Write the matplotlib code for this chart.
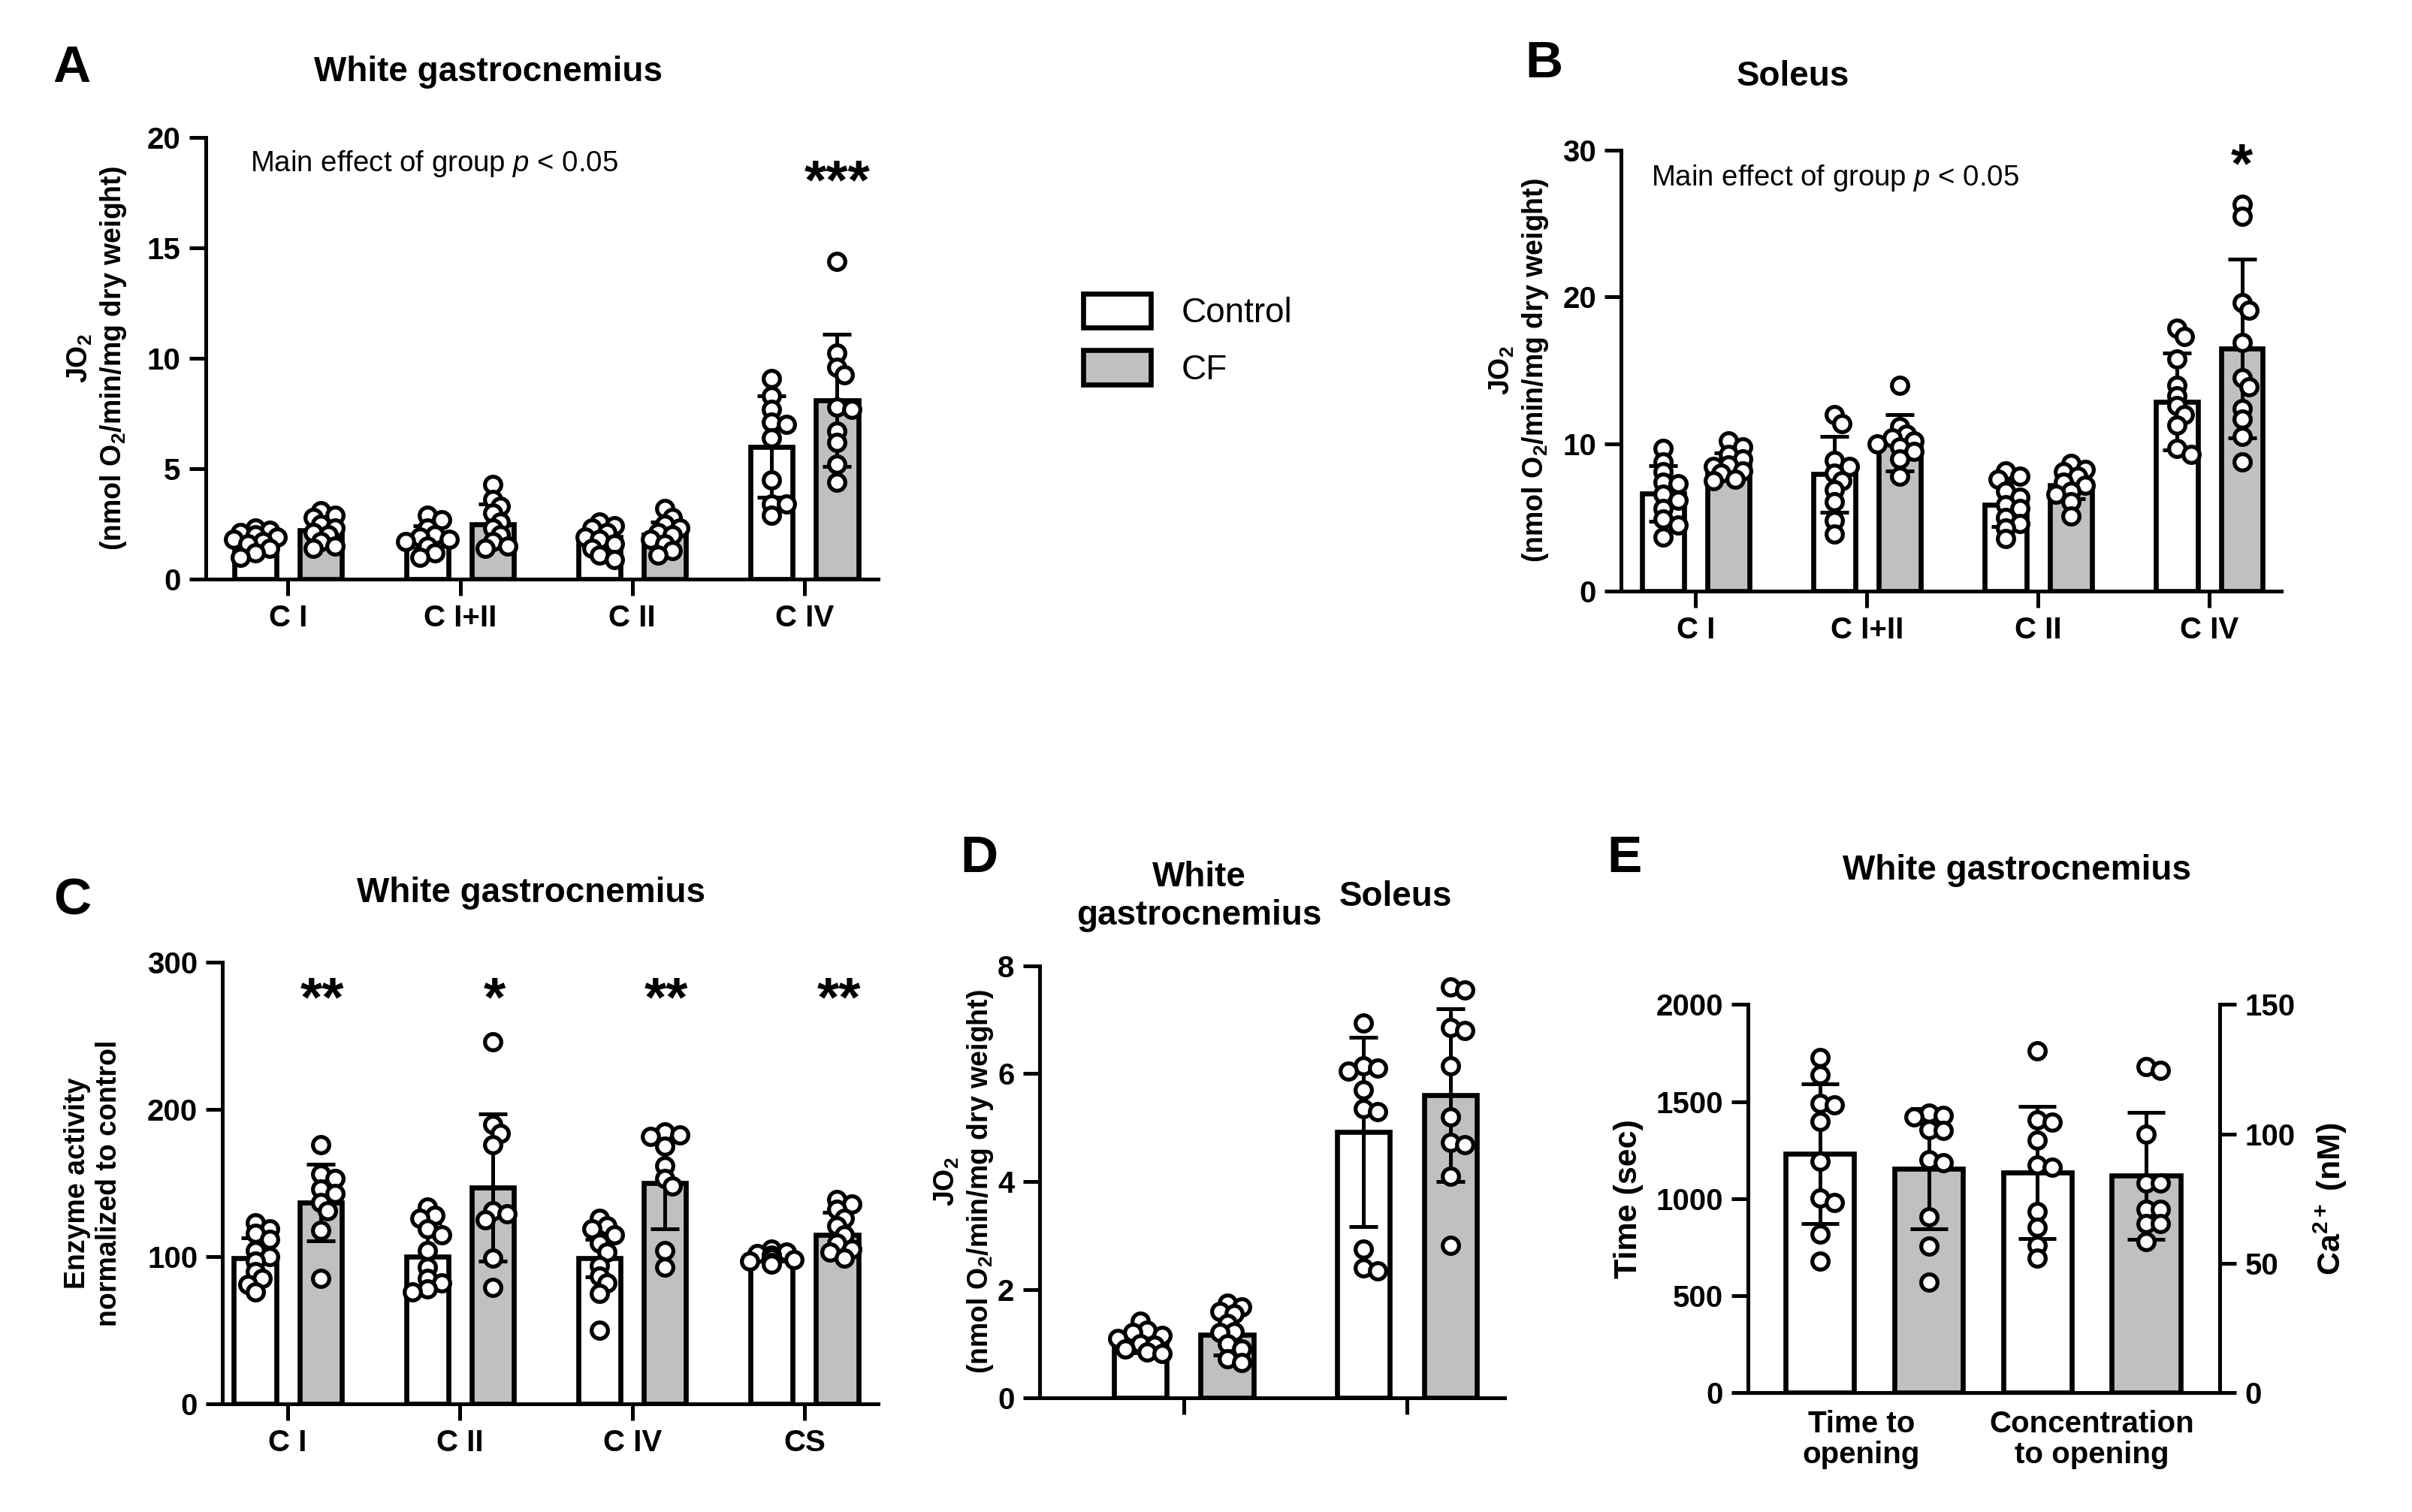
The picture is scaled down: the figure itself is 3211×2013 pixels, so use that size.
import numpy as np
import matplotlib
matplotlib.use("Agg")
import matplotlib.pyplot as plt
from matplotlib.patches import Patch

plt.rcParams['font.family'] = ['Liberation Sans', 'DejaVu Sans']
plt.rcParams['font.weight'] = 'bold'
plt.rcParams['axes.titleweight'] = 'bold'
plt.rcParams['axes.labelweight'] = 'bold'
plt.rcParams['mathtext.fontset'] = 'custom'
plt.rcParams['mathtext.rm'] = 'Liberation Sans:weight=bold'
plt.rcParams['mathtext.it'] = 'Liberation Sans:style=italic:weight=400'
plt.rcParams['mathtext.bf'] = 'Liberation Sans:weight=bold'

GRAY = '#c0c0c0'

# ---------------- data ----------------
# Panel A - white gastrocnemius JO2
a_groups = ["C I", "C I+II", "C II", "C IV"]
a_ctrl_mean = [1.8, 1.9, 1.9, 6.0]
a_ctrl_sd = [0.35, 0.5, 0.45, 2.3]
a_cf_mean = [2.2, 2.5, 2.0, 8.1]
a_cf_sd = [0.6, 0.9, 0.6, 3.0]
a_ctrl_pts = [
    [2.3, 2.2, 2.1, 2.0, 1.9, 1.8, 1.7, 1.6, 1.4, 1.2, 1.0],
    [2.9, 2.7, 2.3, 2.0, 1.9, 1.8, 1.7, 1.5, 1.2, 1.0],
    [2.6, 2.4, 2.3, 2.1, 1.9, 1.8, 1.6, 1.4, 1.1, 0.9],
    [9.1, 8.3, 7.7, 7.1, 7.0, 6.4, 4.5, 3.4, 3.4, 2.9],
]
a_cf_pts = [
    [3.1, 2.9, 2.8, 2.5, 2.3, 2.1, 2.0, 1.7, 1.5, 1.4],
    [4.3, 3.6, 3.3, 3.0, 2.6, 2.3, 2.0, 1.7, 1.5, 1.4],
    [3.2, 2.8, 2.5, 2.3, 2.1, 2.0, 1.8, 1.6, 1.3, 1.1],
    [14.4, 10.25, 9.6, 9.25, 7.8, 7.7, 6.7, 6.2, 5.2, 4.4],
]

# Panel B - soleus JO2
b_groups = ["C I", "C I+II", "C II", "C IV"]
b_ctrl_mean = [6.65, 7.95, 5.9, 12.9]
b_ctrl_sd = [1.9, 2.6, 1.5, 3.3]
b_cf_mean = [8.6, 10.1, 7.2, 16.5]
b_cf_sd = [0.8, 1.9, 0.9, 6.1]
b_ctrl_pts = [
    [9.7, 8.8, 8.1, 7.4, 7.3, 6.6, 6.2, 5.6, 4.9, 4.5, 3.7],
    [12.0, 11.4, 8.9, 8.5, 8.0, 7.5, 6.9, 6.1, 4.8, 3.9],
    [8.2, 7.8, 7.6, 6.8, 6.4, 5.9, 5.6, 5.0, 4.6, 4.3, 3.6],
    [17.9, 17.3, 15.8, 14.0, 13.3, 12.6, 12.0, 11.3, 9.7, 9.3],
]
b_cf_pts = [
    [10.2, 9.8, 9.3, 9.0, 8.6, 8.5, 8.2, 8.0, 7.6, 7.5],
    [14.0, 11.2, 10.7, 10.4, 10.2, 10.0, 9.8, 9.5, 9.0, 7.8],
    [8.7, 8.3, 8.1, 7.8, 7.4, 7.2, 6.8, 6.6, 6.1, 5.1],
    [26.3, 25.5, 19.6, 19.1, 16.9, 14.5, 13.9, 12.4, 11.7, 10.5, 8.8],
]

# Panel C - enzyme activity, % of control
c_groups = ["C I", "C II", "C IV", "CS"]
c_ctrl_mean = [99, 100, 99, 100]
c_ctrl_sd = [14, 23, 13, 3]
c_cf_mean = [137, 147, 150, 115]
c_cf_sd = [26, 50, 31, 15]
c_ctrl_pts = [
    [123, 119, 116, 112, 104, 100, 97, 90, 85, 81, 76],
    [134, 128, 126, 119, 115, 104, 93, 85, 82, 78, 76],
    [126, 121, 119, 115, 109, 103, 94, 87, 82, 75, 50],
    [105, 103, 102, 101, 100, 100, 99, 98, 97, 96, 95],
]
c_cf_pts = [
    [176, 156, 153, 146, 143, 137, 131, 118, 85],
    [246, 190, 184, 176, 131, 129, 125, 99, 79],
    [185, 183, 182, 175, 162, 153, 148, 104, 93],
    [139, 136, 132, 126, 121, 115, 109, 105, 103, 99],
]
c_stars = ["**", "*", "**", "**"]

# Panel D - JO2 both muscles
d_groups = ["White\ngastrocnemius", "Soleus"]
d_ctrl_mean = [1.0, 4.92]
d_ctrl_sd = [0.17, 1.75]
d_cf_mean = [1.17, 5.6]
d_cf_sd = [0.38, 1.6]
d_ctrl_pts = [
    [1.41, 1.25, 1.2, 1.15, 1.1, 1.0, 0.97, 0.9, 0.85, 0.81],
    [6.94, 6.15, 6.1, 6.05, 5.7, 5.35, 5.3, 2.75, 2.4, 2.35],
]
d_cf_pts = [
    [1.75, 1.68, 1.6, 1.55, 1.37, 1.22, 1.2, 1.0, 0.9, 0.72, 0.65],
    [7.6, 7.55, 6.85, 6.8, 6.15, 5.2, 4.72, 4.68, 4.1, 2.82],
]

# Panel E - mPTP opening
e_labels = ["Time to\nopening", "Concentration\nto opening"]
e_time_mean = [1232, 1154]          # sec
e_time_sd = [360, 310]
e_time_pts = [
    [1726, 1637, 1492, 1481, 1396, 1191, 1002, 980, 817, 679],
    [1440, 1430, 1420, 1355, 1350, 1200, 1185, 905, 755, 570],
]
e_conc_mean = [85.2, 83.9]          # nM
e_conc_sd = [25.5, 24.5]
e_conc_pts = [
    [132, 105.5, 104.5, 97.5, 88, 87, 70, 64, 57, 52],
    [126, 124.5, 100, 81, 81, 71, 71, 65.5, 65.5, 58.5],
]

# ---------------- helpers ----------------
BAR_LW = 2.4
AX_LW = 1.8
MS = 7.8
TICK_FS = 14.5
TITLE_FS = 16.5
YLAB_FS = 13.5


def style(ax, right=False):
    ax.spines['top'].set_visible(False)
    if not right:
        ax.spines['right'].set_visible(False)
    for s in ax.spines.values():
        s.set_linewidth(AX_LW)
    ax.tick_params(width=AX_LW, length=8, labelsize=TICK_FS, pad=4)


def swarm_x(ax, x0, vals):
    # spread points sideways when they overlap too much (GraphPad-like scatter)
    tr = ax.transData
    d = MS * ax.figure.dpi / 72
    px_per_x = tr.transform((1, 0))[0] - tr.transform((0, 0))[0]
    placed = []
    xs = []
    for v in vals:
        ypx = tr.transform((x0, v))[1]
        best = None
        for k in [0, 0.45, -0.45, 0.9, -0.9, 1.35, -1.35]:
            dx = k * d
            if all((dx - px) ** 2 + (ypx - py) ** 2 >= (0.6 * d) ** 2 for px, py in placed):
                best = dx
                break
        if best is None:
            best = 0.0
        placed.append((best, ypx))
        xs.append(x0 + best / px_per_x)
    return xs


def draw(ax, x, mean, sd, pts, color, width, capsize=7):
    ax.bar(x, mean, width, color=color, edgecolor='black', linewidth=BAR_LW, zorder=2)
    ax.errorbar(x, mean, yerr=sd, fmt='none', ecolor='black', elinewidth=1.8,
                capsize=capsize, capthick=1.8, zorder=3)
    xs = swarm_x(ax, x, pts)
    ax.plot(xs, pts, 'o', ms=MS, mfc='white', mec='black', mew=1.9, zorder=4,
            clip_on=False)


def grouped(ax, groups, cm, cs, fm, fs, cp, fp, off, width, cap=7):
    for i in range(len(groups)):
        draw(ax, i - off, cm[i], cs[i], cp[i], 'white', width, cap)
        draw(ax, i + off, fm[i], fs[i], fp[i], GRAY, width, cap)
    ax.set_xticks(range(len(groups)))


JO2_LABEL = "JO$_\\mathrm{2}$\n(nmol O$_\\mathrm{2}$/min/mg dry weight)"
MAIN_EFFECT = "Main effect of group $p$ < 0.05"

fig = plt.figure(figsize=(16.06, 10.065), dpi=200)

# ---------------- A ----------------
axA = fig.add_axes([0.0853, 0.617, 0.2788, 0.292])
axA.set_xlim(-0.477, 3.43)
axA.set_ylim(0, 20)
axA.set_yticks([0, 5, 10, 15, 20])
style(axA)
grouped(axA, a_groups, a_ctrl_mean, a_ctrl_sd, a_cf_mean, a_cf_sd,
        a_ctrl_pts, a_cf_pts, 0.19, 0.245)
axA.set_xticklabels(a_groups)
axA.set_ylabel(JO2_LABEL, fontsize=YLAB_FS, labelpad=9)
axA.set_title("White gastrocnemius", fontsize=TITLE_FS, pad=27, x=0.42)
axA.text(-0.22, 18.8, MAIN_EFFECT, fontsize=13.8, fontweight='normal', va='center')
axA.text(3.19, 17.9, "***", fontsize=27, ha='center', va='center')

# ---------------- B ----------------
axB = fig.add_axes([0.672, 0.609, 0.2735, 0.2918])
axB.set_xlim(-0.434, 3.42)
axB.set_ylim(0, 30)
axB.set_yticks([0, 10, 20, 30])
style(axB)
grouped(axB, b_groups, b_ctrl_mean, b_ctrl_sd, b_cf_mean, b_cf_sd,
        b_ctrl_pts, b_cf_pts, 0.19, 0.245)
axB.set_xticklabels(b_groups)
axB.set_ylabel(JO2_LABEL, fontsize=YLAB_FS, labelpad=6)
axB.set_title("Soleus", fontsize=TITLE_FS, pad=31, x=0.26)
axB.text(-0.26, 28.1, MAIN_EFFECT, fontsize=13.8, fontweight='normal', va='center')
axB.text(3.19, 28.8, "*", fontsize=27, ha='center', va='center')

# ---------------- legend ----------------
fig.legend(handles=[Patch(facecolor='white', edgecolor='black', linewidth=BAR_LW),
                    Patch(facecolor=GRAY, edgecolor='black', linewidth=BAR_LW)],
           labels=["Control", "CF"], loc='upper left', bbox_to_anchor=(0.449, 0.806),
           frameon=False, prop={'size': 16.5, 'weight': 'normal'},
           handlelength=1.95, handleheight=1.15, labelspacing=0.6,
           handletextpad=0.9, borderpad=0, borderaxespad=0)

# ---------------- C ----------------
axC = fig.add_axes([0.0923, 0.0716, 0.2718, 0.2918])
axC.set_xlim(-0.378, 3.43)
axC.set_ylim(0, 300)
axC.set_yticks([0, 100, 200, 300])
style(axC)
grouped(axC, c_groups, c_ctrl_mean, c_ctrl_sd, c_cf_mean, c_cf_sd,
        c_ctrl_pts, c_cf_pts, 0.19, 0.245)
axC.set_xticklabels(c_groups)
axC.set_ylabel("Enzyme activity\nnormalized to control", fontsize=YLAB_FS, labelpad=12)
axC.set_title("White gastrocnemius", fontsize=TITLE_FS, pad=29, x=0.47)
for i, s in enumerate(c_stars):
    axC.text(i + 0.2, 274, s, fontsize=27, ha='center', va='center')

# ---------------- D ----------------
axD = fig.add_axes([0.4308, 0.0757, 0.1929, 0.2856])
axD.set_xlim(-0.646, 1.44)
axD.set_ylim(0, 8)
axD.set_yticks([0, 2, 4, 6, 8])
style(axD)
grouped(axD, d_groups, d_ctrl_mean, d_ctrl_sd, d_cf_mean, d_cf_sd,
        d_ctrl_pts, d_cf_pts, 0.195, 0.236)
axD.set_xticklabels(["", ""])
axD.set_ylabel(JO2_LABEL, fontsize=YLAB_FS, labelpad=1)
for i, g in enumerate(d_groups):
    axD.text(i + 0.07 - 0.12 * i, 1.16, g, transform=axD.get_xaxis_transform(),
             fontsize=TITLE_FS, ha='center', va='center', linespacing=1.2)

# ---------------- E ----------------
axE = fig.add_axes([0.7246, 0.0788, 0.1955, 0.2569])
axE.set_xlim(-0.66, 3.68)
axE.set_ylim(0, 2000)
axE.set_yticks([0, 500, 1000, 1500, 2000])
axE2 = axE.twinx()
axE2.set_ylim(0, 150)
axE2.set_yticks([0, 50, 100, 150])
style(axE, right=True)
style(axE2, right=True)
axE2.spines['left'].set_visible(False)
for i in range(2):
    draw(axE, i, e_time_mean[i], e_time_sd[i], e_time_pts[i],
         'white' if i == 0 else GRAY, 0.63, 9)
    draw(axE2, i + 2, e_conc_mean[i], e_conc_sd[i], e_conc_pts[i],
         'white' if i == 0 else GRAY, 0.63, 9)
axE.set_xticks([0.38, 2.5])
axE.set_xticklabels(e_labels, fontsize=TICK_FS, linespacing=1.1)
axE.tick_params(axis='x', length=0, pad=8)
axE.set_ylabel("Time (sec)", fontsize=15.5, labelpad=6)
axE2.set_ylabel("Ca$^\\mathrm{2+}$ (nM)", fontsize=15.5, labelpad=8)
axE.set_title("White gastrocnemius", fontsize=TITLE_FS, pad=60, x=0.57)

# ---------------- panel letters ----------------
for lab, x, y in [("A", 0.022, 0.955), ("B", 0.632, 0.958), ("C", 0.022, 0.404),
                  ("D", 0.398, 0.432), ("E", 0.666, 0.432)]:
    fig.text(x, y, lab, fontsize=25, fontweight='bold', va='center')

fig.savefig("out.png", dpi=200)
